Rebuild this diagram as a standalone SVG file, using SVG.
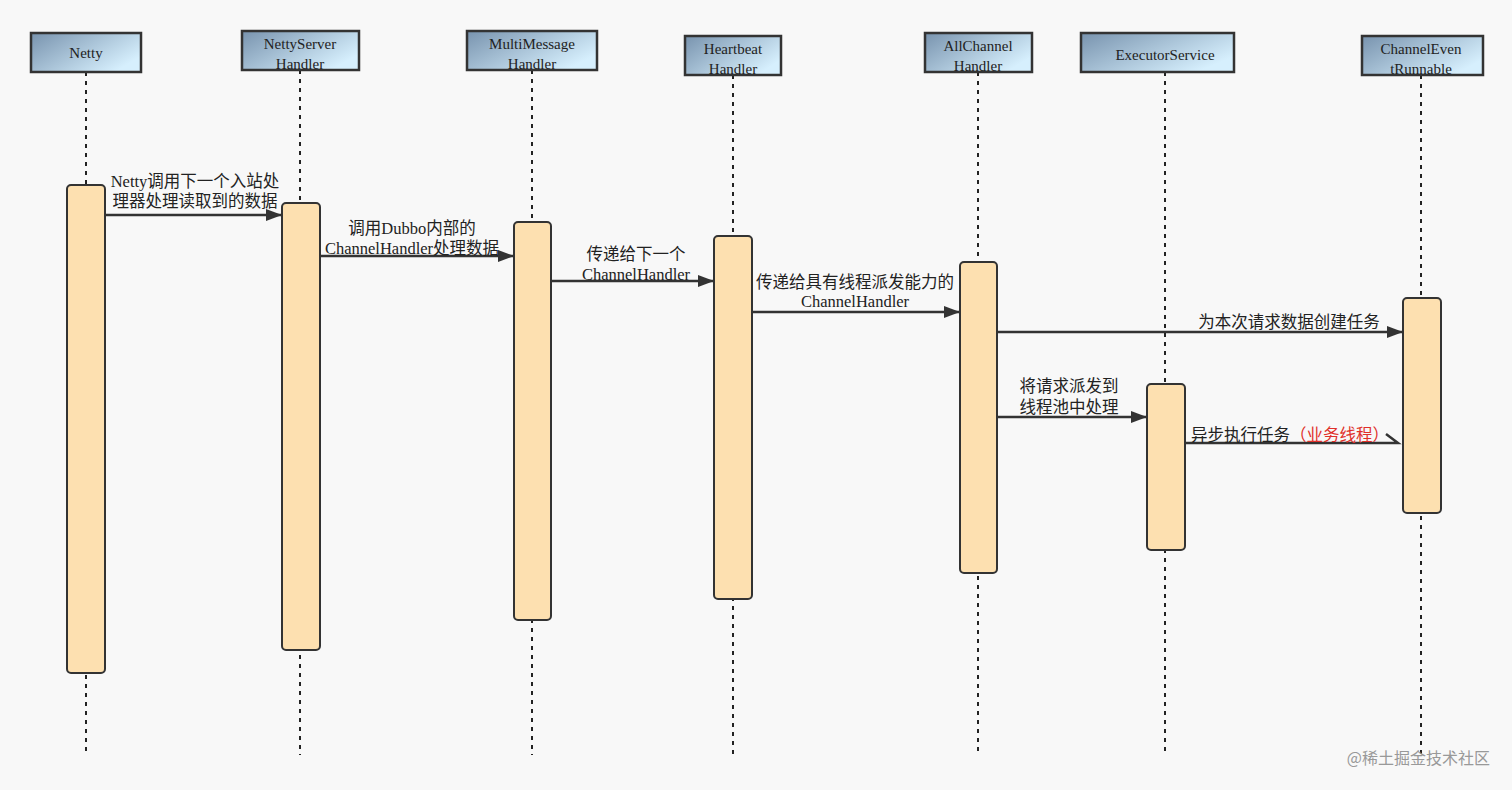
<svg xmlns="http://www.w3.org/2000/svg" width="1512" height="790" viewBox="0 0 1512 790">
<defs>
<linearGradient id="hg" x1="0" y1="0" x2="1" y2="0.6">
<stop offset="0" stop-color="#7893ae"/><stop offset="1" stop-color="#d6effd"/>
</linearGradient>
<marker id="ah" viewBox="0 0 16 12" refX="16" refY="6" markerWidth="16" markerHeight="12" markerUnits="userSpaceOnUse" orient="auto"><path d="M0,0 L16,6 L0,12 z" fill="#333"/></marker>
</defs>
<style>
.hd{fill:url(#hg);stroke:#333;stroke-width:2.5}
.ll{stroke:#222;stroke-width:2;stroke-dasharray:4 5;fill:none}
.act{fill:#fde0b0;stroke:#333;stroke-width:2}
.t{font-family:"Liberation Serif","Noto Sans CJK SC",serif;font-size:15px;fill:#222;text-anchor:middle}
.l{font-size:16.5px}
.c{stroke:#333;stroke-width:2.5;fill:none}
</style>
<rect width="1512" height="790" fill="#f8f8f8"/>
<g id="lifelines">
<line class="ll" x1="86" y1="72" x2="86" y2="755"/>
<line class="ll" x1="300" y1="70" x2="300" y2="755"/>
<line class="ll" x1="532" y1="70" x2="532" y2="755"/>
<line class="ll" x1="733" y1="75" x2="733" y2="755"/>
<line class="ll" x1="978" y1="72" x2="978" y2="755"/>
<line class="ll" x1="1165" y1="72" x2="1165" y2="755"/>
<line class="ll" x1="1421" y1="75" x2="1421" y2="755"/>
</g>
<g id="n-netty"><rect class="hd" x="31" y="33" width="110" height="39"/><text class="t" x="86" y="58">Netty</text>
<rect class="act" x="67" y="185" width="38" height="488" rx="4"/></g>
<g id="n-nsh"><rect class="hd" x="242" y="31" width="117" height="39"/><text class="t" x="300" y="49">NettyServer</text><text class="t" x="300" y="69">Handler</text>
<rect class="act" x="282" y="203" width="38" height="447" rx="4"/></g>
<g id="n-mm"><rect class="hd" x="467" y="31" width="130" height="39"/><text class="t" x="532" y="49">MultiMessage</text><text class="t" x="532" y="69">Handler</text>
<rect class="act" x="514" y="222" width="37" height="398" rx="4"/></g>
<g id="n-hb"><rect class="hd" x="685" y="36" width="96" height="39"/><text class="t" x="733" y="54">Heartbeat</text><text class="t" x="733" y="74">Handler</text>
<rect class="act" x="714" y="236" width="38" height="363" rx="4"/></g>
<g id="n-ac"><rect class="hd" x="925" y="33" width="107" height="39"/><text class="t" x="978" y="51">AllChannel</text><text class="t" x="978" y="71">Handler</text>
<rect class="act" x="960" y="262" width="37" height="311" rx="4"/></g>
<g id="n-es"><rect class="hd" x="1081" y="33" width="153" height="39"/><text class="t" x="1165" y="60">ExecutorService</text>
<rect class="act" x="1147" y="384" width="38" height="166" rx="4"/></g>
<g id="n-ce"><rect class="hd" x="1362" y="36" width="121" height="39"/><text class="t" x="1421" y="54">ChannelEven</text><text class="t" x="1421" y="74">tRunnable</text>
<rect class="act" x="1403" y="298" width="38" height="215" rx="4"/></g>
<g id="connectors">
<line class="c" x1="105" y1="215" x2="282" y2="215" marker-end="url(#ah)"/>
<line class="c" x1="320" y1="256" x2="514" y2="256" marker-end="url(#ah)"/>
<line class="c" x1="551" y1="281" x2="714" y2="281" marker-end="url(#ah)"/>
<line class="c" x1="752" y1="312" x2="960" y2="312" marker-end="url(#ah)"/>
<line class="c" x1="997" y1="332" x2="1403" y2="332" marker-end="url(#ah)"/>
<line class="c" x1="997" y1="417" x2="1147" y2="417" marker-end="url(#ah)"/>
<path class="c" d="M1185,443 L1398,443 L1386,434"/>
</g>
<g id="labels">
<text class="t l" x="195" y="187">Netty调用下一个入站处</text><text class="t l" x="195" y="207">理器处理读取到的数据</text>
<text class="t l" x="412" y="234">调用Dubbo内部的</text><text class="t l" x="412" y="254">ChannelHandler处理数据</text>
<text class="t l" x="636" y="260">传递给下一个</text><text class="t l" x="636" y="280">ChannelHandler</text>
<text class="t l" x="855" y="288">传递给具有线程派发能力的</text><text class="t l" x="855" y="307">ChannelHandler</text>
<text class="t l" x="1289" y="328">为本次请求数据创建任务</text>
<text class="t l" x="1069" y="392">将请求派发到</text><text class="t l" x="1069" y="413">线程池中处理</text>
<text class="t l" x="1290" y="441"><tspan>异步执行任务</tspan><tspan fill="#e0302a">（业务线程）</tspan></text>
<text x="1490" y="764" style="font-family:'Noto Sans CJK SC',sans-serif;font-size:16px;fill:#999;text-anchor:end">@稀土掘金技术社区</text>
</g>
</svg>
